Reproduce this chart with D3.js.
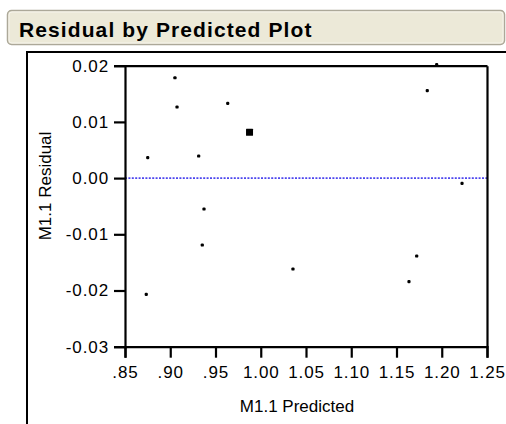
<!DOCTYPE html>
<html>
<head>
<meta charset="utf-8">
<script src="https://cdn.jsdelivr.net/npm/d3@7"></script>
<style>
  html, body { margin: 0; padding: 0; background: #fff; }
  svg { display: block; }
  text { font-family: "Liberation Sans", Arial, sans-serif; fill: #000; }
</style>
</head>
<body>
<svg id="chart" width="506" height="424"></svg>
<script>
// ---- data ----
const predicted = [0.8751, 0.9052, 0.9075, 0.9314, 0.9373, 0.9635, 0.9876, 1.1840, 1.1944, 1.2224, 0.9354, 0.8735, 1.0356, 1.1723, 1.1638];
const residual  = [0.00363, 0.01786, 0.01265, 0.00393, -0.0055, 0.01331, 0.00815, 0.01555, 0.0202, -0.00093, -0.0119, -0.02068, -0.01617, -0.01386, -0.01843];
const highlighted = [false, false, false, false, false, false, true, false, false, false, false, false, false, false, false];
const xTickValues = [0.85, 0.90, 0.95, 1.00, 1.05, 1.10, 1.15, 1.20, 1.25];
const xTickLabels = [".85", ".90", ".95", "1.00", "1.05", "1.10", "1.15", "1.20", "1.25"];
const yTickValues = [0.02, 0.01, 0.00, -0.01, -0.02, -0.03];
const yTickLabels = ["0.02", "0.01", "0.00", "-0.01", "-0.02", "-0.03"];
const titleText = "Residual by Predicted Plot";
const xLabel = "M1.1 Predicted";
const yLabel = "M1.1 Residual";

const svg = d3.select("#chart");

// header bar
svg.append("rect")
  .attr("x", 7.5).attr("y", 10.5).attr("width", 497).attr("height", 34)
  .attr("rx", 4).attr("ry", 4)
  .attr("fill", "#ece9d8").attr("stroke", "#aca899").attr("stroke-width", 1.5);
svg.append("rect")
  .attr("x", 9).attr("y", 12).attr("width", 494).attr("height", 31)
  .attr("rx", 3).attr("ry", 3)
  .attr("fill", "none").attr("stroke", "#f6f4ec").attr("stroke-width", 1);
svg.append("text")
  .attr("x", 19).attr("y", 37)
  .attr("font-size", 21).attr("font-weight", "bold")
  .attr("letter-spacing", "1.1px")
  .text(titleText);

// outer panel lines
svg.append("path")
  .attr("d", "M27,424 L27,52 L506,52")
  .attr("fill", "none").attr("stroke", "#000").attr("stroke-width", 2);

// scales
const x = d3.scaleLinear().domain([0.85, 1.25]).range([125, 487]);
const y = d3.scaleLinear().domain([-0.03, 0.02]).range([346.7, 65.7]);

// zero reference line
svg.append("line")
  .attr("x1", x(0.85)).attr("x2", x(1.25))
  .attr("y1", y(0)).attr("y2", y(0))
  .attr("stroke", "#4d46ee").attr("stroke-width", 1.6)
  .attr("stroke-dasharray", "2,1.4");

// axes
const yAxis = d3.axisLeft(y).tickValues(yTickValues)
  .tickFormat((d, i) => yTickLabels[i]).tickSize(11).tickPadding(5);
const xAxis = d3.axisBottom(x).tickValues(xTickValues)
  .tickFormat((d, i) => xTickLabels[i]).tickSize(11).tickPadding(8);
const yAxisR = d3.axisRight(y).tickValues([]).tickSize(0);
const xAxisT = d3.axisTop(x).tickValues([]).tickSize(0);

function styleAxis(g) {
  g.select(".domain").attr("stroke", "#000").attr("stroke-width", 2.2);
  g.selectAll(".tick line").attr("stroke", "#000").attr("stroke-width", 2.2);
  g.selectAll(".tick text")
    .attr("font-size", 17).attr("letter-spacing", "0.9px")
    .attr("font-family", "'Liberation Sans', Arial, sans-serif").attr("fill", "#000");
}
svg.append("g").attr("transform", "translate(125,0)").call(yAxis).call(styleAxis);
svg.append("g").attr("transform", "translate(0,346.7)").call(xAxis).call(styleAxis);
svg.append("g").attr("transform", "translate(487,0)").call(yAxisR).call(styleAxis);
svg.append("g").attr("transform", "translate(0,65.7)").call(xAxisT).call(styleAxis);

// points
const pts = predicted.map((p, i) => ({ p, r: residual[i], h: highlighted[i] }));
svg.append("g").selectAll("rect")
  .data(pts).join("rect")
  .attr("x", d => x(d.p) - (d.h ? 3.5 : 1.6))
  .attr("y", d => y(d.r) - (d.h ? 3.5 : 1.6))
  .attr("width", d => d.h ? 7 : 3.2)
  .attr("height", d => d.h ? 7 : 3.2)
  .attr("rx", d => d.h ? 0.5 : 1.2)
  .attr("fill", "#000");

// axis labels
svg.append("text")
  .attr("x", 297).attr("y", 412)
  .attr("text-anchor", "middle").attr("font-size", 17)
  .text(xLabel);
svg.append("text")
  .attr("transform", "translate(51,186) rotate(-90)")
  .attr("text-anchor", "middle").attr("font-size", 17)
  .text(yLabel);
</script>
</body>
</html>
